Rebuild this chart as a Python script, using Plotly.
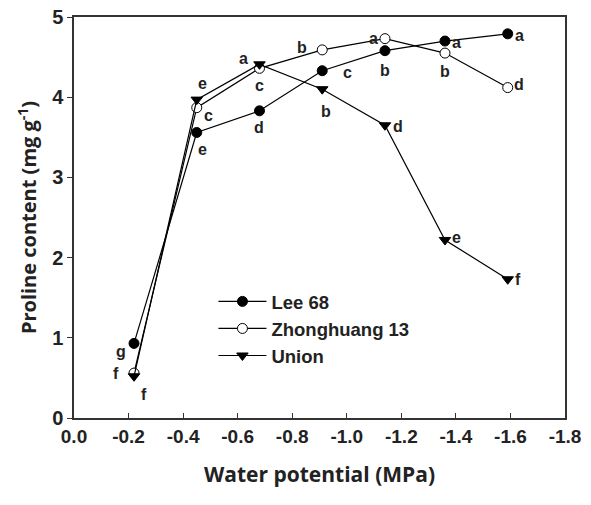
import plotly.graph_objects as go

# ---- data ----
water_potential = [-0.22, -0.45, -0.68, -0.91, -1.14, -1.36, -1.59]
lee68 = [0.93, 3.56, 3.83, 4.33, 4.58, 4.70, 4.79]
zhonghuang13 = [0.56, 3.87, 4.36, 4.59, 4.73, 4.55, 4.12]
union = [0.52, 3.97, 4.41, 4.10, 3.65, 2.22, 1.73]

lee68_letters = ["g", "e", "d", "c", "b", "a", "a"]
zhonghuang13_letters = ["f", "c", "c", "b", "a", "b", "d"]
union_letters = ["f", "e", "a", "b", "d", "e", "f"]

x_tick_vals = [0.0, -0.2, -0.4, -0.6, -0.8, -1.0, -1.2, -1.4, -1.6, -1.8]
x_tick_text = ["0.0", "-0.2", "-0.4", "-0.6", "-0.8", "-1.0", "-1.2", "-1.4", "-1.6", "-1.8"]
y_tick_vals = [0, 1, 2, 3, 4, 5]

# ---- label placement (pixel offsets, style only) ----
lee68_off = [(-13, -8), (6, -17), (0, -17), (25, -2), (0, -20), (12, -1), (12, -2)]
zh_off = [(-18, 0), (12, -8), (0, -17), (-20, 2), (-11, 0), (0, -18), (11, 3)]
un_off = [(10, -18), (6, 16), (-16, 6), (4, -22), (13, -1), (12, 2), (10, 0)]

fig = go.Figure()
line = dict(color="black", width=1.2)
fig.add_trace(go.Scatter(x=water_potential, y=lee68, name="Lee 68", mode="lines+markers",
                         line=line, marker=dict(symbol="circle", size=10, color="black",
                                                line=dict(color="black", width=1))))
fig.add_trace(go.Scatter(x=water_potential, y=zhonghuang13, name="Zhonghuang 13", mode="lines+markers",
                         line=line, marker=dict(symbol="circle", size=10, color="white",
                                                line=dict(color="black", width=1))))
fig.add_trace(go.Scatter(x=water_potential, y=union, name="Union", mode="lines+markers",
                         line=line, marker=dict(symbol="triangle-down", size=10, color="black",
                                                line=dict(color="black", width=1))))

anns = []
for ys, letters, offs in [(lee68, lee68_letters, lee68_off),
                          (zhonghuang13, zhonghuang13_letters, zh_off),
                          (union, union_letters, un_off)]:
    for xv, yv, t, (dx, dy) in zip(water_potential, ys, letters, offs):
        anns.append(dict(x=xv, y=yv, text=t, showarrow=False, xshift=dx, yshift=dy,
                         font=dict(family="Liberation Sans", size=16, color="#222222", weight="bold")))

fig.update_layout(
    width=591, height=505,
    margin=dict(l=74, r=26, t=17, b=87),
    paper_bgcolor="white", plot_bgcolor="white",
    showlegend=True,
    legend=dict(x=0.284, y=0.337, xanchor="left", yanchor="top",
                font=dict(family="Liberation Sans", size=18.5, color="#222222", weight="bold"),
                bgcolor="rgba(0,0,0,0)", itemwidth=48, tracegroupgap=0),
    annotations=anns,
    xaxis=dict(range=[0, -1.8], tickvals=x_tick_vals, ticktext=x_tick_text, automargin=False,
               ticks="inside", ticklen=5, tickcolor="#333333", tickwidth=1,
               showline=True, linecolor="#333333", linewidth=1.5, mirror=True,
               showgrid=False, zeroline=False,
               tickfont=dict(family="Liberation Sans", size=19, color="#222222", weight="bold"),
               title=dict(text="Water potential (MPa)", standoff=22,
                          font=dict(family="Open Sans", size=21, color="#222222", weight="bold"))),
    yaxis=dict(range=[0, 5], tickvals=y_tick_vals, automargin=False,
               ticks="outside", ticklen=5, tickcolor="#333333", tickwidth=1,
               showline=True, linecolor="#333333", linewidth=1.5, mirror=True,
               showgrid=False, zeroline=False,
               tickfont=dict(family="Liberation Sans", size=20, color="#222222", weight="bold"),
               title=dict(text="Proline content (mg g<sup>-1</sup>)", standoff=10,
                          font=dict(family="Open Sans", size=20, color="#222222", weight="bold"))),
)

fig.write_html("out.html", config={"displayModeBar": False},
               post_script="document.body.style.margin='0';document.body.style.overflow='hidden';")
